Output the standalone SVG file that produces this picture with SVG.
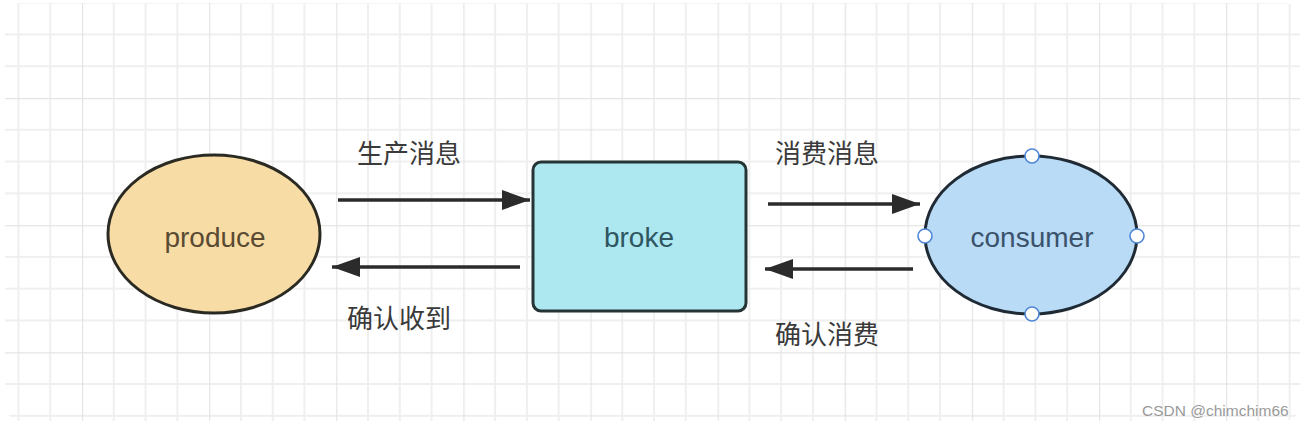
<svg xmlns="http://www.w3.org/2000/svg" width="1304" height="426" viewBox="0 0 1304 426">
  <style>
    .lbl { font-family: "Noto Sans CJK SC", "Noto Sans", sans-serif; font-size: 26px; fill: #3a3a3a; }
    .node-text { font-family: "Liberation Sans", Arial, sans-serif; font-size: 28px; text-anchor: middle; }
    .conn { stroke: #2b2b2b; stroke-width: 3.5; fill: none; }
    .handle { fill: #ffffff; stroke: #4f86d6; stroke-width: 1.6; }
    .wm { font-family: "Liberation Sans", Arial, sans-serif; font-size: 15.5px; fill: #9a9a9a; }
  </style>
  <defs>
    <pattern id="grid" patternUnits="userSpaceOnUse" x="82" y="98" width="127.12" height="127.12">
      <path d="M31.78 0V127.12M63.56 0V127.12M95.34 0V127.12M0 31.78H127.12M0 63.56H127.12M0 95.34H127.12" stroke="#efefef" stroke-width="2" fill="none"/>
      <path d="M0 0V127.12M0 0H127.12" stroke="#e4e4e4" stroke-width="2.4" fill="none"/>
    </pattern>
    <marker id="arrow" markerUnits="userSpaceOnUse" markerWidth="30" markerHeight="22" refX="28" refY="10" orient="auto">
      <path d="M0,0 L28,10 L0,20 Z" fill="#2b2b2b"/>
    </marker>
  </defs>

  <rect width="1304" height="426" fill="#ffffff"/>
  <rect x="5" y="3" width="1295" height="418" rx="16" fill="url(#grid)"/>

  <g id="connectors">
    <line class="conn" x1="338" y1="200" x2="530" y2="200" marker-end="url(#arrow)"/>
    <line class="conn" x1="520" y1="267" x2="332" y2="267" marker-end="url(#arrow)"/>
    <line class="conn" x1="768" y1="204" x2="920" y2="204" marker-end="url(#arrow)"/>
    <line class="conn" x1="913" y1="269" x2="765" y2="269" marker-end="url(#arrow)"/>
    <text class="lbl" x="357" y="163">生产消息</text>
    <text class="lbl" x="347" y="328">确认收到</text>
    <text class="lbl" x="775" y="163">消费消息</text>
    <text class="lbl" x="775" y="344">确认消费</text>
  </g>

  <g id="produce">
    <ellipse cx="214" cy="234" rx="106" ry="79" fill="#f8dca6" stroke="#2a2a22" stroke-width="3"/>
    <text class="node-text" x="215" y="247" fill="#5a4a32">produce</text>
  </g>

  <g id="broke">
    <rect x="533" y="162" width="213" height="149" rx="8" fill="#ade7f0" stroke="#253535" stroke-width="3"/>
    <text class="node-text" x="639" y="247" fill="#2f5660">broke</text>
  </g>

  <g id="consumer">
    <ellipse cx="1031" cy="235" rx="106" ry="79" fill="#b9dbf6" stroke="#1f2a35" stroke-width="3"/>
    <text class="node-text" x="1032" y="247" fill="#3b526b">consumer</text>
    <circle class="handle" cx="925" cy="236" r="7"/>
    <circle class="handle" cx="1137" cy="236" r="7"/>
    <circle class="handle" cx="1032" cy="156" r="7"/>
    <circle class="handle" cx="1032" cy="314" r="7"/>
  </g>

  <text class="wm" x="1142" y="416">CSDN @chimchim66</text>
</svg>
